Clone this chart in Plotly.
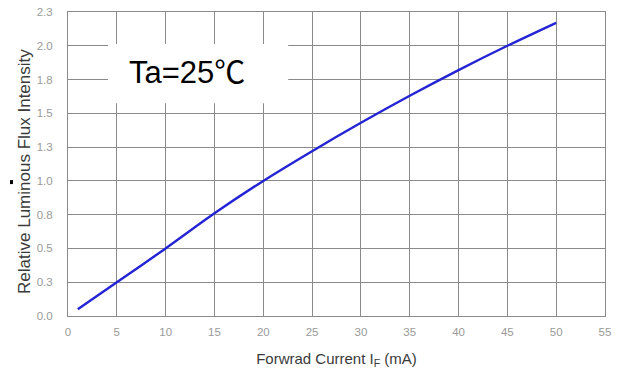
import plotly.graph_objects as go

# Data
current_ma = [1, 5, 10, 15, 20, 25, 30, 35, 40, 45, 50]
rel_flux = [0.05, 0.25, 0.50, 0.76, 1.00, 1.22, 1.43, 1.63, 1.82, 2.00, 2.17]

y_tickvals = [0, 0.25, 0.5, 0.75, 1.0, 1.25, 1.5, 1.75, 2.0, 2.25]
y_ticktext = ["0.0", "0.3", "0.5", "0.8", "1.0", "1.3", "1.5", "1.8", "2.0", "2.3"]
x_tickvals = [0, 5, 10, 15, 20, 25, 30, 35, 40, 45, 50, 55]

fig = go.Figure()
fig.add_trace(go.Scatter(
    x=current_ma, y=rel_flux, mode="lines",
    line=dict(color="#2424d4", width=2.4, shape="spline", smoothing=0.8),
    showlegend=False, hoverinfo="skip",
))

grid_col = "#8a8a8a"
base_font = "Liberation Sans, Arial, sans-serif"
tick_font = dict(family=base_font, size=11.5, color="#9a9a9a")

fig.update_layout(
    width=618, height=371,
    margin=dict(l=68, r=13, t=12, b=55),
    paper_bgcolor="white", plot_bgcolor="white",
    xaxis=dict(
        range=[0, 55], tickvals=x_tickvals, ticktext=[str(v) for v in x_tickvals],
        showgrid=True, gridcolor=grid_col, gridwidth=1,
        showline=True, linecolor=grid_col, linewidth=1, mirror=True,
        zeroline=False, ticks="", ticklen=0, tickfont=tick_font,
        ticklabelstandoff=5, ticklabeloverflow="allow", automargin=False,
        title=dict(text="Forwrad Current I<sub>F</sub> (mA)",
                   font=dict(family=base_font, size=15, color="#3a3a3a"),
                   standoff=16),
    ),
    yaxis=dict(
        range=[0, 2.25], tickvals=y_tickvals, ticktext=y_ticktext,
        showgrid=True, gridcolor=grid_col, gridwidth=1,
        showline=True, linecolor=grid_col, linewidth=1, mirror=True,
        zeroline=False, ticks="", ticklen=0, tickfont=tick_font,
        ticklabelstandoff=12, ticklabeloverflow="allow", automargin=False,
    ),
    shapes=[
        dict(type="rect", xref="paper", yref="paper",
             x0=0.0745, x1=0.41, y0=0.70, y1=0.895,
             fillcolor="white", line=dict(width=0), layer="above"),
        dict(type="rect", xref="paper", yref="paper",
             x0=-0.108, x1=-0.1025, y0=0.434, y1=0.447,
             fillcolor="black", line=dict(width=0)),
    ],
    annotations=[
        dict(text="Ta=25℃", xref="paper", yref="paper",
             x=0.222, y=0.80, xanchor="center", yanchor="middle",
             showarrow=False,
             font=dict(family="Liberation Sans, Noto Sans CJK SC, sans-serif", size=31, color="black")),
        dict(text="Relative Luminous Flux Intensity", xref="paper", yref="paper",
             x=-0.080, y=0.474, xanchor="center", yanchor="middle", textangle=-90,
             showarrow=False,
             font=dict(family=base_font, size=17, color="#3a3a3a")),
    ],
)

fig.write_html(
    "out.html",
    config={"displayModeBar": False},
    post_script="document.body.style.margin='0';document.body.style.overflow='hidden';",
)
